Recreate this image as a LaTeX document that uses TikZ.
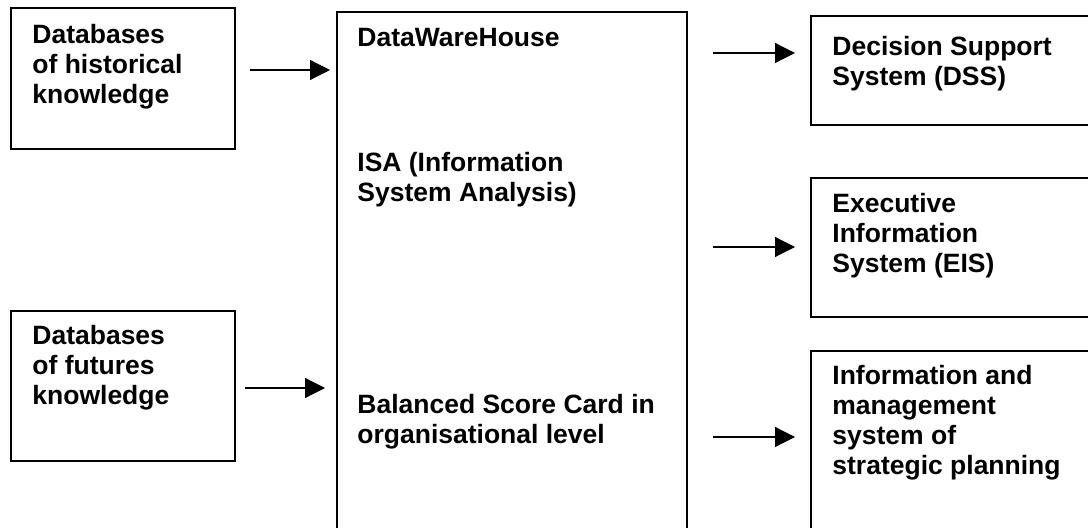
\documentclass[tikz,border=0pt]{standalone}
\usepackage{fontspec}
\setmainfont{Liberation Sans}
\usetikzlibrary{arrows.meta,fit}

\tikzset{
  panel/.style={draw=black, line width=0.85pt, inner sep=0pt, fill=none},
  % anchored at the baseline of the last line of each text
  label/.style={anchor=base west, inner sep=0pt, align=left,
    font=\fontsize{13.25pt}{15pt}\selectfont\bfseries},
  flow/.style={line width=0.6pt, -{Triangle[length=10pt,width=10pt]}}
}

\begin{document}
\begin{tikzpicture}[x=0.5pt, y=-0.5pt]
  \useasboundingbox (0,0) rectangle (1088,528);
  \clip (0,0) rectangle (1088,528);
  \fill[white] (0,0) rectangle (1088,528);

  % boxes
  \node[panel, fit={(11,8) (235,149)}] (hist) {};
  \node[panel, fit={(11,311) (235,461)}] (fut) {};
  \node[panel, fit={(337,12) (687,570)}] (core) {};
  \node[panel, fit={(811,16) (1110,125)}] (dss) {};
  \node[panel, fit={(811,178) (1110,317)}] (eis) {};
  \node[panel, fit={(811,351) (1110,570)}] (ims) {};

  % texts
  \node[label] (histT) at (32,104) {Databases\\of historical\\knowledge};
  \node[label] (futT) at (32,405) {Databases\\of futures\\knowledge};
  \node[label] (dwhT) at (357,47) {DataWareHouse};
  \node[label] (isaT) at (357,202) {ISA (Information\\System Analysis)};
  \node[label] (bscT) at (357,444) {Balanced Score Card in\\organisational level};
  \node[label] (dssT) at (832,86) {Decision Support\\System (DSS)};
  \node[label] (eisT) at (832,273) {Executive\\Information\\System (EIS)};
  \node[label] (imsT) at (832,475) {Information and\\management\\system of\\strategic planning};

  % arrow ends
  \coordinate (h0) at (250,70);  \coordinate (h1) at (330,70);
  \coordinate (f0) at (245,388); \coordinate (f1) at (325,388);
  \coordinate (d0) at (713,53);  \coordinate (d1) at (795,53);
  \coordinate (e0) at (713,247); \coordinate (e1) at (795,247);
  \coordinate (i0) at (713,437); \coordinate (i1) at (795,437);

  \draw[flow] (h0) -- (h1);
  \draw[flow] (f0) -- (f1);
  \draw[flow] (d0) -- (d1);
  \draw[flow] (e0) -- (e1);
  \draw[flow] (i0) -- (i1);
\end{tikzpicture}
\end{document}
